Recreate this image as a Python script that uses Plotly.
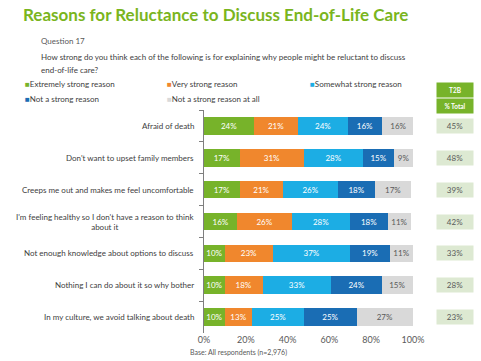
import plotly.graph_objects as go

categories = [
    "Afraid of death",
    "Don't want to upset family members",
    "Creeps me out and makes me feel uncomfortable",
    "I'm feeling healthy so I don't have a reason to think<br>about it",
    "Not enough knowledge about options to discuss",
    "Nothing I can do about it so why bother",
    "In my culture, we avoid talking about death",
]
series_names = ["Extremely strong reason", "Very strong reason", "Somewhat strong reason",
                "Not a strong reason", "Not a strong reason at all"]
extremely = [24, 17, 17, 16, 10, 10, 10]
very = [21, 31, 21, 26, 23, 18, 13]
somewhat = [24, 28, 26, 28, 37, 33, 25]
not_strong = [16, 15, 18, 18, 19, 24, 25]
not_at_all = [16, 9, 17, 11, 11, 15, 27]
t2b = [45, 48, 39, 42, 33, 28, 23]
x_ticks = [0, 20, 40, 60, 80, 100]

colors = ["#77b32a", "#f0872d", "#1cade4", "#1a6db4", "#d9d9d9"]
text_colors = ["white", "white", "white", "white", "#595959"]
FONT = "Lato"
W, H = 481, 361
ML, MR, MT, MB = 204, 68, 110, 28

def px_x(x):
    return (x - ML) / (W - ML - MR)

def px_y(y):
    return 1 - (y - MT) / (H - MT - MB)

fig = go.Figure()
for name, vals, c, tc in zip(series_names, [extremely, very, somewhat, not_strong, not_at_all], colors, text_colors):
    fig.add_trace(go.Bar(
        y=categories, x=vals, name=name, orientation="h",
        marker=dict(color=c, line=dict(width=0)),
        text=[f"{v}%" for v in vals], textposition="inside", insidetextanchor="middle",
        textfont=dict(color=tc, size=8, family=FONT), constraintext="none",
        width=0.55, showlegend=False,
    ))

fig.update_layout(
    width=W, height=H, barmode="stack",
    margin=dict(l=ML, r=MR, t=MT, b=MB, autoexpand=False),
    paper_bgcolor="white", plot_bgcolor="white",
    font=dict(family=FONT, color="#404040", size=8),
    xaxis=dict(range=[0, 100], tickvals=x_ticks, ticktext=[f"{v}%" for v in x_ticks],
               showgrid=False, zeroline=False, showline=False,
               tickfont=dict(size=9, color="#595959"), ticks=""),
    yaxis=dict(autorange="reversed", showgrid=False, showline=True, linecolor="#7f7f7f",
               linewidth=1, ticks="outside", tickson="boundaries", ticklen=4, tickcolor="#7f7f7f",
               showticklabels=False),
)

out = []

def txt(text, x, y, size, color="#404040"):
    out.append(dict(text=text, x=px_x(x), y=px_y(y), xref="paper", yref="paper",
                    xanchor="left", yanchor="middle", showarrow=False,
                    font=dict(size=size, color=color, family=FONT)))

txt("<b>Reasons for Reluctance to Discuss End-of-Life Care</b>", 21, 15, 17, "#7ab51d")
txt("Question 17", 39, 41, 8, "#595959")
txt("How strong do you think each of the following is for explaining why people might be reluctant to discuss",
    39, 57, 8)
txt("end-of-life care?", 39, 70, 8)
legend_pos = [(23, 84), (165, 84), (308, 84), (23, 99), (165, 99)]
for (lx, ly), name, c in zip(legend_pos, series_names, colors):
    txt(f'<span style="color:{c}">■</span>{name}', lx, ly, 8)

for cat in categories:
    out.append(dict(text=cat, x=px_x(196), y=cat, xref="paper", yref="y",
                    xanchor="right", yanchor="middle", align="center", showarrow=False,
                    font=dict(size=8, color="#404040", family=FONT)))

for t, yy in [("<b>T2B</b>", 90), ("<b>% Total</b>", 106)]:
    out.append(dict(text=t, x=px_x(455), y=px_y(yy), xref="paper", yref="paper",
                    xanchor="center", yanchor="middle", showarrow=False,
                    width=34, height=12, bgcolor="#77b32a", borderpad=1,
                    font=dict(size=6.5, color="white", family=FONT)))
for cat, v in zip(categories, t2b):
    out.append(dict(text=f"{v}%", x=px_x(455), y=cat, xref="paper", yref="y",
                    xanchor="center", yanchor="middle", showarrow=False,
                    width=34, height=12, bgcolor="#dde9d2", borderpad=1,
                    font=dict(size=8, color="#595959", family=FONT)))
txt("Base: All respondents (n=2,976)", 188, 352, 7, "#595959")
fig.update_layout(annotations=out)

fig.write_html("out.html", config={"displayModeBar": False},
               post_script="document.body.style.margin='0';")
